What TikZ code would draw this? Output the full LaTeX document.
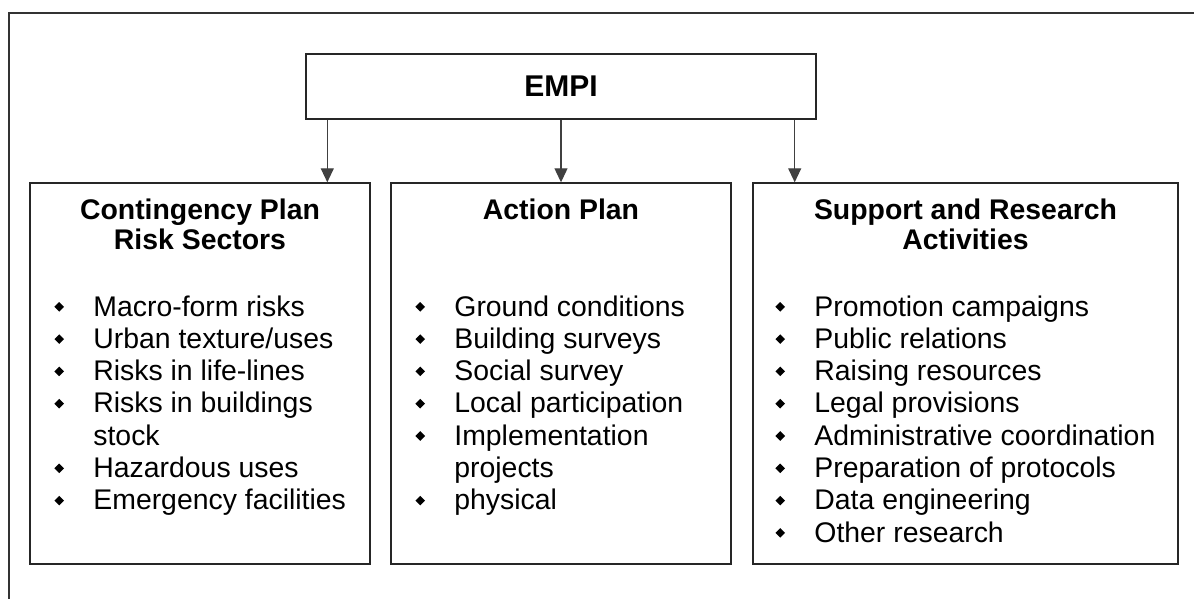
\documentclass[tikz,border=0pt]{standalone}
\usepackage{fontspec}
\setmainfont{Liberation Sans}
\usetikzlibrary{arrows.meta}

% small filled diamond used as list bullet
\newcommand{\diam}{\tikz[baseline=0pt]\fill (0pt,4.6pt) -- (2.4pt,7pt) -- (4.8pt,4.6pt) -- (2.4pt,2.2pt) -- cycle;}

\begin{document}
\begin{tikzpicture}[x=0.5pt,y=-0.5pt,>={Triangle[length=7pt,width=6.5pt]}]

    \tikzset{box/.style={draw=black!85,line width=0.7pt,inner sep=0pt},
             head/.style={font=\fontsize{14.2}{15}\selectfont\bfseries,inner sep=0pt,anchor=base},
             items/.style={font=\fontsize{14.2}{16.15}\selectfont,inner sep=0pt,anchor=base west}}

    \useasboundingbox (0,0) rectangle (1194,599);
    \clip (0,0) rectangle (1194,599);
    \draw[black!80,line width=0.65pt] (9,13) rectangle (1220,630);

    \node[box,minimum width=255pt,minimum height=32.5pt,
          font=\fontsize{15}{18}\selectfont\bfseries] (empi) at (561,86.5) {EMPI};

    \node[box,minimum width=170pt,minimum height=190.5pt] (cp) at (200,373.5) {};
    \node[box,minimum width=170pt,minimum height=190.5pt] (ap) at (561,373.5) {};
    \node[box,minimum width=212.5pt,minimum height=190.5pt] (sr) at (965.5,373.5) {};

    \node[head] (cph) at (200,219) {\begin{tabular}[t]{@{}c@{}}Contingency Plan\\Risk Sectors\end{tabular}};
    \node[head] (aph) at (561,219) {\begin{tabular}[t]{@{}c@{}}Action Plan\end{tabular}};
    \node[head] (srh) at (965.5,219) {\begin{tabular}[t]{@{}c@{}}Support and Research\\Activities\end{tabular}};

    \node[items] (cpl) at (54,316) {\begin{tabular}[t]{@{}p{19.5pt}@{}l@{}}
        \diam & Macro-form risks\\
        \diam & Urban texture/uses\\
        \diam & Risks in life-lines\\
        \diam & Risks in buildings\\
              & stock\\
        \diam & Hazardous uses\\
        \diam & Emergency facilities
    \end{tabular}};
    \node[items] (apl) at (415,316) {\begin{tabular}[t]{@{}p{19.5pt}@{}l@{}}
        \diam & Ground conditions\\
        \diam & Building surveys\\
        \diam & Social survey\\
        \diam & Local participation\\
        \diam & Implementation\\
              & projects\\
        \diam & physical
    \end{tabular}};
    \node[items] (srl) at (775,316) {\begin{tabular}[t]{@{}p{19.5pt}@{}l@{}}
        \diam & Promotion campaigns\\
        \diam & Public relations\\
        \diam & Raising resources\\
        \diam & Legal provisions\\
        \diam & Administrative coordination\\
        \diam & Preparation of protocols\\
        \diam & Data engineering\\
        \diam & Other research
    \end{tabular}};

    \coordinate (a1) at ([xshift=11pt]empi.south west);
    \coordinate (a3) at ([xshift=-11pt]empi.south east);

    \begin{scope}[every path/.style={->,draw=black!75,line width=0.6pt}]
        \draw (a1) -- (a1 |- cp.north);
        \draw (empi.south) -- (empi.south |- ap.north);
        \draw (a3) -- (a3 |- sr.north);
    \end{scope}

\end{tikzpicture}
\end{document}
